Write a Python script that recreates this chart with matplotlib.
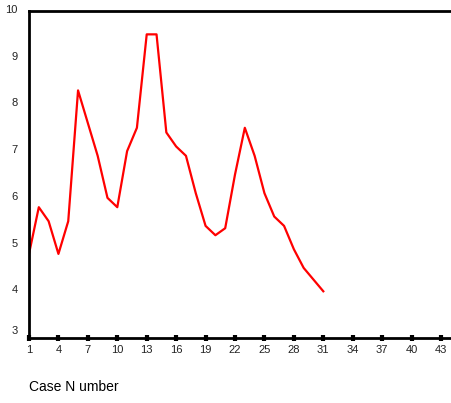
import matplotlib
matplotlib.use("Agg")
import matplotlib.pyplot as plt
import matplotlib.transforms as mtransforms

# Datos de la serie
case_number = list(range(1, 32))
values = [4.8, 5.8, 5.5, 4.8, 5.5, 8.3, 7.6, 6.9, 6.0, 5.8,
          7.0, 7.5, 9.5, 9.5, 7.4, 7.1, 6.9, 6.1, 5.4, 5.2,
          5.35, 6.5, 7.5, 6.9, 6.1, 5.6, 5.4, 4.9, 4.5, 4.25, 4.0]
x_ticks = list(range(1, 44, 3))
y_ticks = [3, 4, 5, 6, 7, 8, 9, 10]

plt.rcParams['font.family'] = ['Liberation Sans', 'DejaVu Sans']

W, H = 451, 403
fig = plt.figure(figsize=(W / 100, H / 100), dpi=100)
ax = fig.add_axes([29 / W, (H - 338) / H, (W - 29) / W, (338 - 11) / H])

ax.plot(case_number, values, color='#ff0000', linewidth=1.6)

ax.set_xlim(1, 1 + 422 / 9.81)
ax.set_ylim(3, 10)
ax.set_xticks(x_ticks)
ax.set_yticks(y_ticks)

for side in ['left', 'bottom', 'top']:
    ax.spines[side].set_linewidth(2)
    ax.spines[side].set_color('black')
ax.spines['right'].set_visible(False)

ax.tick_params(axis='x', direction='inout', length=4, width=3, labelsize=8, pad=3,
               labelcolor='#222222')
ax.tick_params(axis='y', length=0, labelsize=8, pad=8, labelcolor='#222222')

# las etiquetas del eje y quedan un poco por encima de su valor
for lab in ax.get_yticklabels():
    up = 8 if lab.get_text() == '3' else 2
    lab.set_transform(lab.get_transform() +
                      mtransforms.ScaledTranslation(0, up / 100, fig.dpi_scale_trans))

fig.text(29 / W, 1 - 387 / H, 'Case N umber', fontsize=10, ha='left', va='center')

fig.savefig('out.png', dpi=100)
